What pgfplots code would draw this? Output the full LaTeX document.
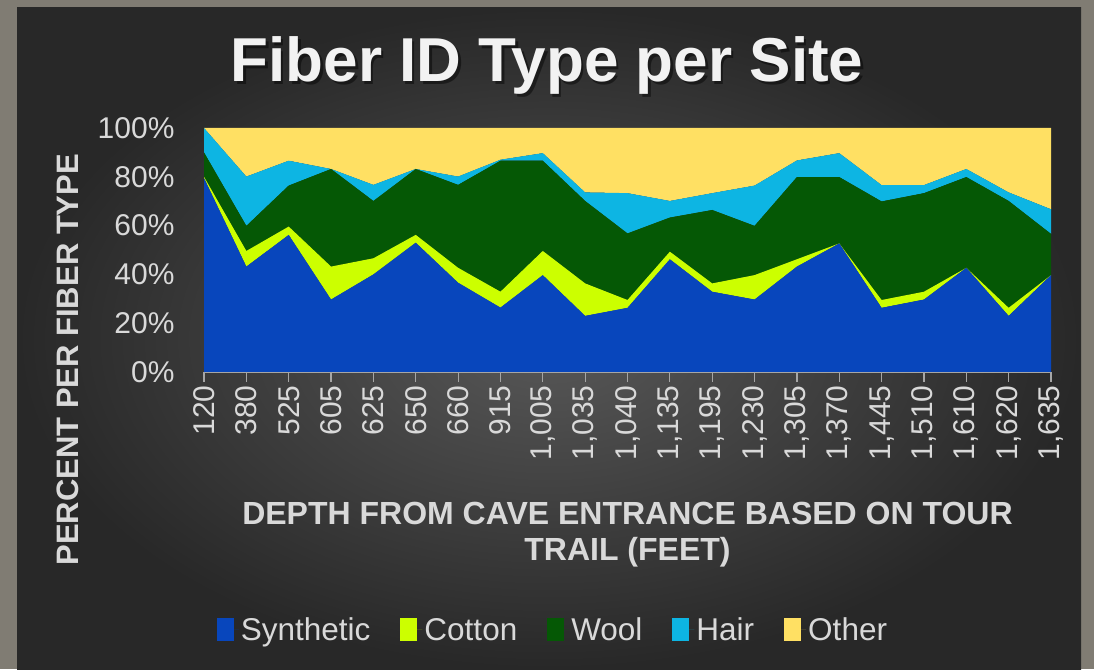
\documentclass[border=0pt]{standalone}
\usepackage{pgfplots}
\usepackage{pgfplotstable}
\pgfplotsset{compat=1.18}
\usepackage{fontspec}
\setmainfont{Liberation Sans}
\definecolor{photo}{HTML}{807C73}
\definecolor{panelin}{HTML}{585858}
\definecolor{panelout}{HTML}{282828}
\definecolor{lbl}{HTML}{D9D9D9}
\definecolor{axgray}{HTML}{A6A6A6}
\definecolor{csyn}{HTML}{0846BC}
\definecolor{ccot}{HTML}{CCFF00}
\definecolor{cwool}{HTML}{055805}
\definecolor{chair}{HTML}{0DB5E3}
\definecolor{coth}{HTML}{FFE063}

\pgfplotstableread{
x syn cot wool hair oth
0 79.5 0.5 10.0 10.0 0.0
1 43.2 6.4 10.3 20.2 19.9
2 56.2 3.4 16.8 10.2 13.4
3 29.7 13.5 40.0 0.0 16.8
4 40.0 6.6 23.5 6.6 23.3
5 53.0 3.2 27.0 0.0 16.8
6 36.6 6.1 34.0 3.4 19.9
7 26.4 6.5 53.7 0.4 13.0
8 39.7 9.9 37.0 3.1 10.3
9 23.0 13.3 33.8 3.5 26.4
10 26.3 3.2 27.3 16.5 26.7
11 46.2 3.1 14.0 6.8 29.9
12 32.9 3.4 30.1 6.9 26.7
13 29.7 10.0 20.2 16.5 23.6
14 43.2 3.0 33.7 6.8 13.3
15 52.7 0.0 27.2 9.8 10.3
16 26.3 3.2 40.4 6.7 23.4
17 29.7 3.2 40.4 3.3 23.4
18 42.7 0.0 37.2 3.3 16.8
19 23.0 3.3 43.8 3.5 26.4
20 39.7 0.0 16.9 10.1 33.3
}\fibers

\begin{document}
\begin{tikzpicture}
\useasboundingbox (0,0) rectangle (1094pt,669pt);
\fill[photo] (0,0) rectangle (1094pt,669pt);
\shade[inner color=panelin, outer color=panelout] (17pt,0) rectangle (1081pt,661pt);
\node[anchor=base, text=black, opacity=0.45, font=\bfseries\fontsize{62}{68}\selectfont] at (549.5pt,584.5pt) {Fiber ID Type per Site};
\node[anchor=base, text=white!95!black, font=\bfseries\fontsize{62}{68}\selectfont] at (547pt,587pt) {Fiber ID Type per Site};
\begin{axis}[
  at={(204pt,297pt)}, anchor=south west,
  scale only axis, width=847pt, height=244pt,
  xmin=0, xmax=20, ymin=0, ymax=100,
  stack plots=y,
  axis x line*=bottom, axis y line*=left,
  y axis line style={draw=none},
  x axis line style={draw=axgray, line width=1.5pt},
  xtick={0,...,20},
  xticklabels={120,380,525,605,625,650,660,915,{1,005},{1,035},{1,040},{1,135},{1,195},{1,230},{1,305},{1,370},{1,445},{1,510},{1,610},{1,620},{1,635}},
  x tick style={draw=axgray, line width=1.2pt},
  major tick length=10pt, tick align=outside,
  xticklabel style={rotate=90, anchor=east, text=lbl, font=\fontsize{30}{36}\selectfont},
  ytick={0,20,40,60,80,100},
  yticklabels={0\%,20\%,40\%,60\%,80\%,100\%},
  y tick style={draw=none},
  yticklabel style={text=lbl, font=\fontsize{30}{36}\selectfont, xshift=-16pt},
  xlabel={DEPTH FROM CAVE ENTRANCE BASED ON TOUR\\TRAIL (FEET)},
  xlabel style={at={(rel axis cs:0.5,-0.668)}, anchor=center, align=center, text=lbl, font=\bfseries\fontsize{32}{36}\selectfont},
  ylabel={PERCENT PER FIBER TYPE},
  ylabel style={at={(rel axis cs:-0.1606,0.05)}, anchor=center, text=lbl, font=\bfseries\fontsize{31}{36}\selectfont},
  legend columns=5,
  legend style={at={(rel axis cs:0.412,-1.057)}, anchor=center, draw=none, fill=none, text=lbl, font=\fontsize{31.5}{36}\selectfont,
    /tikz/every even column/.append style={column sep=28pt}},
  legend image code/.code={\fill[#1,draw=none] (0pt,-11pt) rectangle (17pt,12pt); \path (0pt,0pt) -- (22pt,0pt);},
]
\addplot[fill=csyn, draw=none] table[x=x, y=syn] {\fibers} \closedcycle;
\addplot[fill=ccot, draw=none] table[x=x, y=cot] {\fibers} \closedcycle;
\addplot[fill=cwool, draw=none] table[x=x, y=wool] {\fibers} \closedcycle;
\addplot[fill=chair, draw=none] table[x=x, y=hair] {\fibers} \closedcycle;
\addplot[fill=coth, draw=none] table[x=x, y=oth] {\fibers} \closedcycle;
\legend{Synthetic, Cotton, Wool, Hair, Other}
\end{axis}
\end{tikzpicture}
\end{document}
